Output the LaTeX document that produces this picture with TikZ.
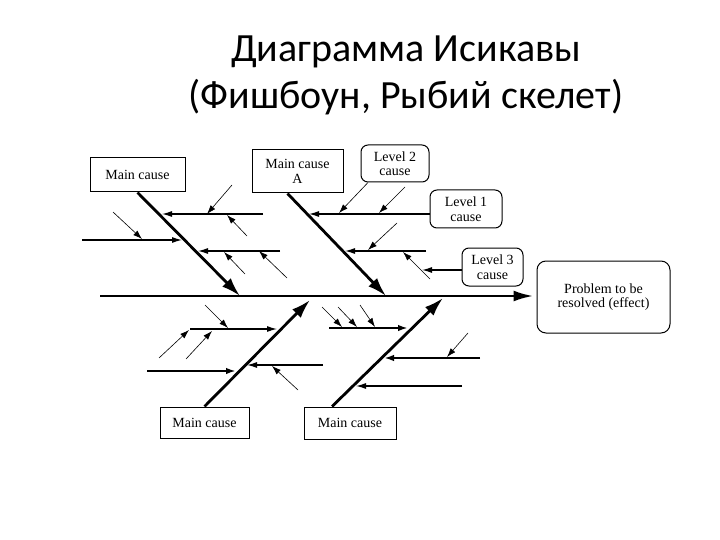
\documentclass[tikz,border=0pt]{standalone}
\usepackage{fontspec}
\setmainfont{Liberation Serif}
\newfontfamily\titlefont{Carlito}
\usetikzlibrary{arrows.meta}
\tikzset{
  box/.style={draw, line width=1pt, inner sep=0pt, align=center, font=\fontsize{14}{14.5}\selectfont},
  rbox/.style={box, rounded corners=7pt},
  spineline/.style={line width=2.8pt, -{Latex[length=20pt,width=11pt]}},
  bone/.style={line width=2.8pt, -{Latex[length=19pt,width=12pt]}},
  sub/.style={line width=1.1pt, -{Latex[length=10pt,width=6pt]}},
  subthick/.style={line width=2pt, -{Latex[length=10pt,width=6.5pt]}},
  twig/.style={line width=0.6pt, -{Latex[length=9pt,width=6pt]}},
}
\begin{document}
\begin{tikzpicture}[x=1pt,y=-1pt]
\useasboundingbox (0,0) rectangle (720,540);
% title
\node[font=\titlefont\fontsize{40}{47}\selectfont, align=center] (title) at (406,75) {Диаграмма Исикавы\\(Фишбоун, Рыбий скелет)};
% boxes
\node[box, minimum width=95pt, minimum height=34pt] (m1) at (137.5,175) {Main cause};
\node[box, minimum width=91pt, minimum height=43pt] (mA) at (297.5,171.5) {Main cause\\A};
\node[box, minimum width=89pt, minimum height=31pt] (m3) at (204.5,422.5) {Main cause};
\node[box, minimum width=92pt, minimum height=32pt] (m4) at (350,423) {Main cause};
\node[rbox, minimum width=68pt, minimum height=37pt] (l2) at (395,163.5) {Level 2\\cause};
\node[rbox, minimum width=72pt, minimum height=38pt] (l1) at (466,209) {Level 1\\cause};
\node[rbox, minimum width=61pt, minimum height=38pt] (l3) at (492.5,267) {Level 3\\cause};
\node[rbox, rounded corners=9pt, minimum width=133pt, minimum height=72pt] (eff) at (603.5,297) {Problem to be\\resolved (effect)};
% spine
\coordinate (s0) at (100,296);
\draw[spineline] (s0) -- ([xshift=-3pt]eff.west |- s0);
% main bones
\coordinate (b1) at (240,296);
\coordinate (bA) at (386,296);
\coordinate (b3) at (310,300);
\coordinate (b4) at (443,298);
\draw[bone] (m1.south) -- (b1);
\draw[bone] ([xshift=-10pt]mA.south) -- (bA);
\draw[bone] (m3.north) -- (b3);
\draw[bone] ([xshift=-18pt]m4.north) -- (b4);
% --- bone 1 subs
\coordinate (h1a) at (263,214); \coordinate (h1b) at (162,214);
\draw[sub] (h1a) -- (h1b);
\coordinate (t1a) at (232,185); \coordinate (t1b) at (207,214);
\draw[twig] (t1a) -- (t1b);
\coordinate (t2a) at (247,236); \coordinate (t2b) at (227,215);
\draw[twig] (t2a) -- (t2b);
\coordinate (h2a) at (82,240); \coordinate (h2b) at (182,240);
\draw[sub] (h2a) -- (h2b);
\coordinate (t3a) at (113,212); \coordinate (t3b) at (142,239);
\draw[twig] (t3a) -- (t3b);
\coordinate (h3a) at (280,251); \coordinate (h3b) at (198,251);
\draw[sub] (h3a) -- (h3b);
\coordinate (t4a) at (245,274); \coordinate (t4b) at (224,252);
\draw[twig] (t4a) -- (t4b);
\coordinate (t5a) at (287,278); \coordinate (t5b) at (259,251);
\draw[twig] (t5a) -- (t5b);
% --- bone A subs
\coordinate (h4b) at (309,214);
\draw[sub] (l1.west |- 0,214) -- (h4b);
\coordinate (t6b) at (339,213);
\draw[twig] ([xshift=-27pt]l2.south) -- (t6b);
\coordinate (t7a) at (405,187); \coordinate (t7b) at (379,213);
\draw[twig] (t7a) -- (t7b);
\coordinate (h5a) at (426,251); \coordinate (h5b) at (345,251);
\draw[sub] (h5a) -- (h5b);
\coordinate (t8a) at (397,223); \coordinate (t8b) at (368,250);
\draw[twig] (t8a) -- (t8b);
\coordinate (t9a) at (430,279); \coordinate (t9b) at (403,252);
\draw[twig] (t9a) -- (t9b);
\coordinate (h6b) at (422,270);
\draw[sub] (l3.west |- 0,270) -- (h6b);
% --- bottom-left bone subs
\coordinate (h7a) at (190,329); \coordinate (h7b) at (277,329);
\draw[sub] (h7a) -- (h7b);
\coordinate (t10a) at (205,305); \coordinate (t10b) at (228,328);
\draw[twig] (t10a) -- (t10b);
\coordinate (t11a) at (159,358); \coordinate (t11b) at (189,330);
\draw[twig] (t11a) -- (t11b);
\coordinate (t12a) at (186,359); \coordinate (t12b) at (212,331);
\draw[twig] (t12a) -- (t12b);
\coordinate (h8a) at (147,371); \coordinate (h8b) at (236,371);
\draw[subthick] (h8a) -- (h8b);
\coordinate (h9a) at (323,365); \coordinate (h9b) at (247,365);
\draw[sub] (h9a) -- (h9b);
\coordinate (t13a) at (298,390); \coordinate (t13b) at (272,366);
\draw[twig] (t13a) -- (t13b);
% --- bottom-right bone subs
\coordinate (h10a) at (329,328); \coordinate (h10b) at (408,328);
\draw[subthick] (h10a) -- (h10b);
\coordinate (t14a) at (322,307); \coordinate (t14b) at (342,327);
\draw[twig] (t14a) -- (t14b);
\coordinate (t15a) at (338,307); \coordinate (t15b) at (357,327);
\draw[twig] (t15a) -- (t15b);
\coordinate (t16a) at (360,305); \coordinate (t16b) at (375,327);
\draw[twig] (t16a) -- (t16b);
\coordinate (h11a) at (480,358); \coordinate (h11b) at (384,358);
\draw[subthick] (h11a) -- (h11b);
\coordinate (t17a) at (468,333); \coordinate (t17b) at (447,357);
\draw[twig] (t17a) -- (t17b);
\coordinate (h12a) at (462,386); \coordinate (h12b) at (356,386);
\draw[sub] (h12a) -- (h12b);
\end{tikzpicture}
\end{document}
